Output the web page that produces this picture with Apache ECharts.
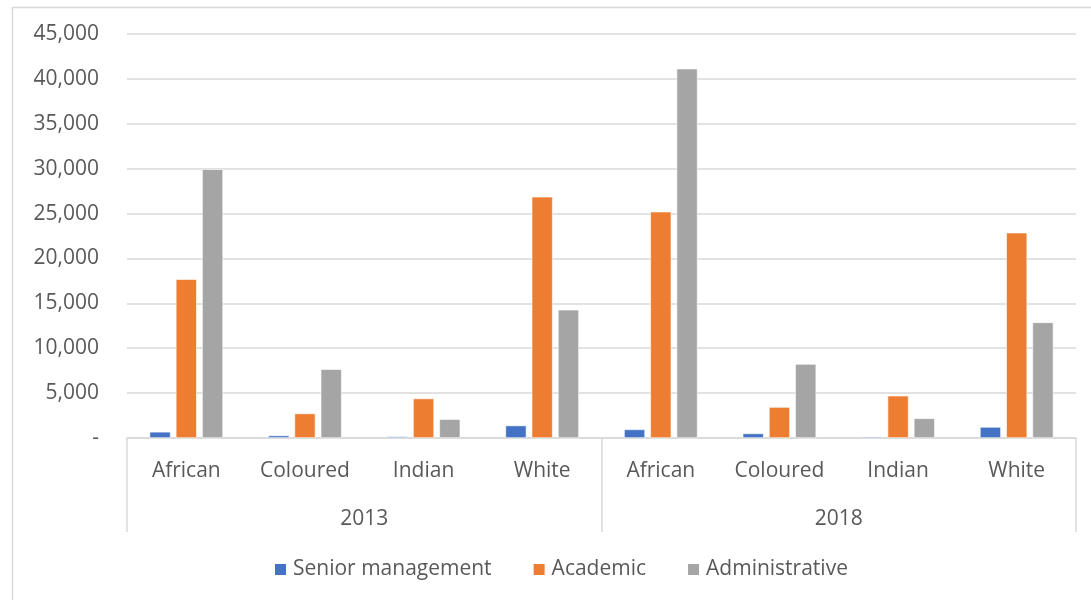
<!DOCTYPE html>
<html>
<head>
<meta charset="utf-8">
<script src="https://cdn.jsdelivr.net/npm/echarts@6/dist/echarts.min.js"></script>
<style>
html,body{margin:0;padding:0;background:#fff;}
#c{width:1091px;height:600px;}
</style>
</head>
<body>
<div id="c"></div>
<script>
const groups = ['African', 'Coloured', 'Indian', 'White', 'African', 'Coloured', 'Indian', 'White'];
const years = ['2013', '2018'];
const seriesNames = ['Senior management', 'Academic', 'Administrative'];
const seniorManagement = [690, 280, 170, 1390, 960, 510, 150, 1230];
const academic = [17690, 2730, 4400, 26870, 25210, 3450, 4710, 22870];
const administrative = [29940, 7660, 2100, 14280, 41140, 8240, 2190, 12880];
const colors = ['#4472C4', '#ED7D31', '#A5A5A5'];

const FONT = 'Open Sans';
const FS = 21;
const chart = echarts.init(document.getElementById('c'));
const fmt = v => v === 0 ? '-' : v.toLocaleString('en-US');
const mk = (name, data, color) => ({
  name, type: 'bar', data, barWidth: 21, barGap: '25%',
  itemStyle: { color, borderColor: '#ffffff', borderWidth: 0.6 },
  xAxisIndex: 0, yAxisIndex: 0
});
chart.setOption({
  animation: false,
  textStyle: { fontFamily: FONT },
  graphic: [{
    type: 'rect', left: 10, top: 5, shape: { width: 1200, height: 700 },
    style: { fill: 'none', stroke: '#d9d9d9', lineWidth: 1.5 }, z: -1
  }],
  grid: { left: 127, right: 15, top: 34, bottom: 162, containLabel: false },
  legend: {
    left: 268, top: 554, itemWidth: 13, itemHeight: 13, itemGap: 40, icon: 'rect',
    textStyle: { color: '#595959', fontSize: FS, fontFamily: FONT, padding: [0, 0, 0, 1] },
    data: seriesNames
  },
  xAxis: [{
    type: 'category', data: groups, position: 'bottom',
    axisLine: { show: true, lineStyle: { color: '#d9d9d9', width: 1.5 } },
    axisTick: { show: false },
    axisLabel: { color: '#595959', fontSize: FS, fontFamily: FONT, margin: 23, interval: 0 }
  }, {
    type: 'category', data: years, position: 'bottom', gridIndex: 0,
    axisLine: { show: false },
    axisTick: { show: true, length: 94, alignWithLabel: false, lineStyle: { color: '#d9d9d9', width: 1.5 } },
    axisLabel: { color: '#595959', fontSize: FS, fontFamily: FONT, margin: 71, interval: 0 },
    splitLine: { show: false }
  }],
  yAxis: {
    type: 'value', min: 0, max: 45000, interval: 5000,
    axisLine: { show: false }, axisTick: { show: false },
    splitLine: { lineStyle: { color: '#d9d9d9', width: 1.5 } },
    axisLabel: { color: '#595959', fontSize: FS, fontFamily: FONT, margin: 28, formatter: fmt }
  },
  series: [
    mk(seriesNames[0], seniorManagement, colors[0]),
    mk(seriesNames[1], academic, colors[1]),
    mk(seriesNames[2], administrative, colors[2])
  ]
});
</script>
</body>
</html>
